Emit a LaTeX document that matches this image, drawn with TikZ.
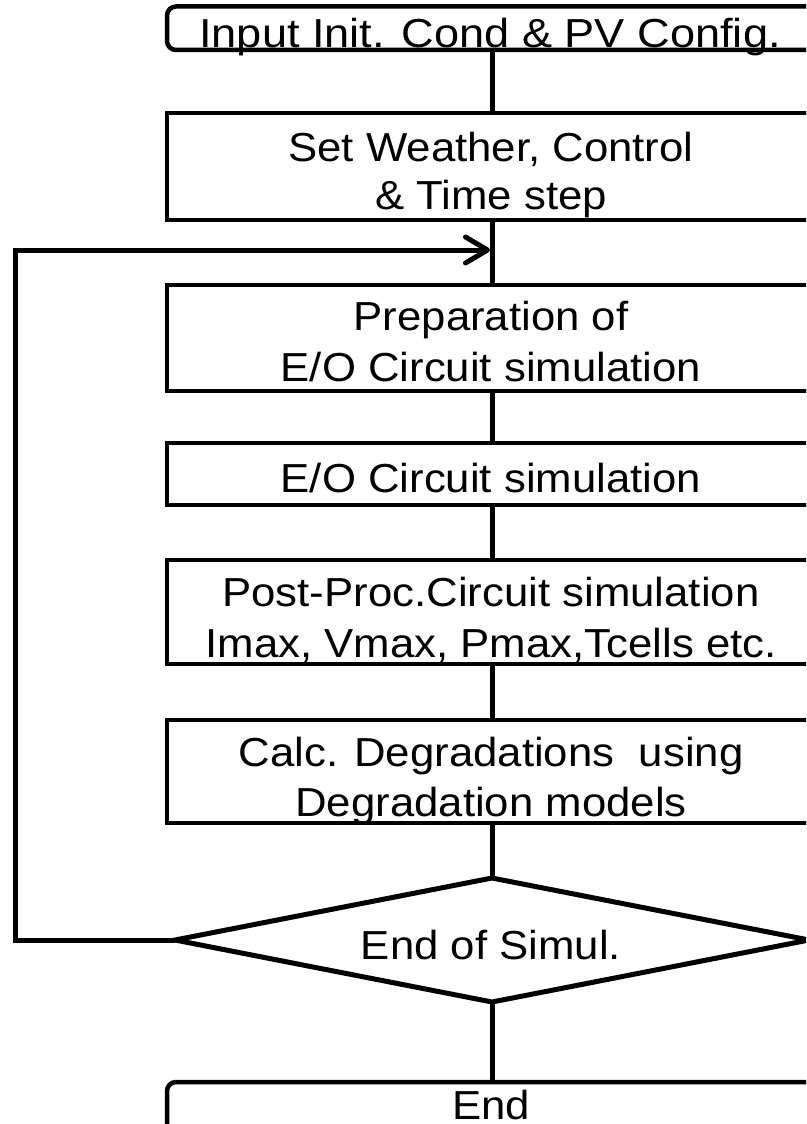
\documentclass[tikz,border=0pt]{standalone}
\usepackage{fontspec}
\setmainfont{Liberation Sans}
\usetikzlibrary{shapes.geometric,arrows.meta}
% slightly widened lettering for the flowchart labels
\newcommand\widetext[2][1.08]{\scalebox{#1}[1]{#2}}
\tikzset{
  stage/.style={draw, line width=4.5pt, rectangle, minimum width=650pt,
    inner sep=0pt, outer sep=0pt, anchor=north},
  terminal/.style={stage, rounded corners=9pt},
  decision/.style={draw, diamond, line width=5pt, minimum width=634pt,
    minimum height=124pt, inner sep=0pt, outer sep=0pt},
  link/.style={line width=5pt},
  backlink/.style={line width=5pt, shorten >=2pt,
    -{Straight Barb[length=22pt,width=26pt,round]}},
  txt/.style={anchor=base, inner sep=0pt, outer sep=0pt,
    font=\fontsize{40.5}{48}\selectfont},
}
\begin{document}
\begin{tikzpicture}[x=1pt, y=-1pt]
  \useasboundingbox (0,0) rectangle (806,1124);
  \clip (0,0) rectangle (806,1124);

  % process boxes (they run past the right edge of the page)
  \node[terminal, minimum height=43.5pt] (start) at (492,6.5) {};
  \node[stage, minimum height=107pt] (weather) at (492,113) {};
  \node[stage, minimum height=106pt] (prep) at (492,285) {};
  \node[stage, minimum height=62pt] (sim) at (492,443) {};
  \node[stage, minimum height=104pt] (post) at (492,560) {};
  \node[stage, minimum height=103pt] (degr) at (492,720) {};
  \node[decision] (check) at (492,940) {};
  \node[terminal, minimum height=80pt] (finish) at (492,1082) {};

  % labels
  \node[txt] (tstart) at (490,48) {\widetext[1.115]{Input Init. Cond \& PV Config.}};
  \node[txt] (tweather1) at (491,161) {\widetext{Set Weather, Control}};
  \node[txt] (tweather2) at (491,209) {\widetext{\& Time step}};
  \node[txt] (tprep1) at (491,330) {\widetext{Preparation of}};
  \node[txt] (tprep2) at (491,381) {\widetext{E/O Circuit simulation}};
  \node[txt] (tsim) at (491,492) {\widetext{E/O Circuit simulation}};
  \node[txt] (tpost1) at (491,606) {\widetext{Post-Proc.Circuit simulation}};
  \node[txt] (tpost2) at (491,657) {\widetext{Imax, Vmax, Pmax,Tcells etc.}};
  \node[txt] (tdegr1) at (491,766) {\widetext{Calc. Degradations\ \ using}};
  \node[txt] (tdegr2) at (491,816) {\widetext{Degradation models}};
  \node[txt] (tcheck) at (491,959) {\widetext{End of Simul.}};
  \node[txt] (tfinish) at (491,1119) {\widetext{End}};

  % main flow
  \coordinate (merge) at (492,250);
  \draw[link] (start.south) -- (weather.north);
  \draw[link] (weather.south) -- (prep.north);
  \draw[link] (prep.south) -- (sim.north);
  \draw[link] (sim.south) -- (post.north);
  \draw[link] (post.south) -- (degr.north);
  \draw[link] (degr.south) -- (check.north);
  \draw[link] (check.south) -- (finish.north);

  % loop back to the next time step
  \draw[backlink] (check.west) -- ++(-160,0) |- (merge);
\end{tikzpicture}
\end{document}
